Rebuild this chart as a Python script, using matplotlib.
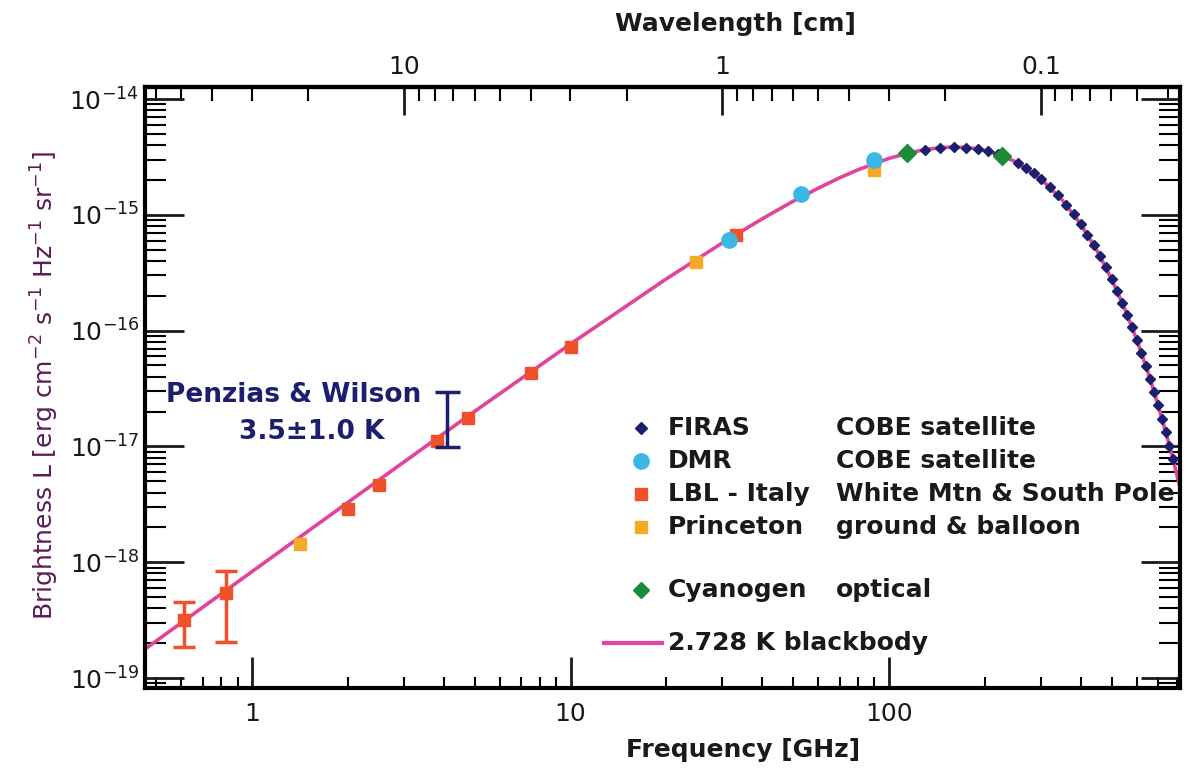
import numpy as np
import matplotlib
matplotlib.use("Agg")
import matplotlib.pyplot as plt
from matplotlib.ticker import LogLocator, NullFormatter, FixedLocator, FuncFormatter

W, H = 1190, 770

# 2.728 K blackbody: frequency [GHz], brightness [erg cm^-2 s^-1 Hz^-1 sr^-1]
bb_freq = [0.46, 1, 3, 5, 10, 20, 30, 40, 50, 60, 70, 80, 100, 115, 130, 145,
           160, 175, 190, 205, 220, 250, 300, 350, 400, 450, 500, 550, 600,
           650, 700, 750, 800, 820]
bb_bright = [1.77e-19, 8.31e-19, 7.35e-18, 2.01e-17, 7.67e-17, 2.80e-16,
             5.73e-16, 9.24e-16, 1.31e-15, 1.70e-15, 2.09e-15, 2.45e-15,
             3.07e-15, 3.42e-15, 3.66e-15, 3.80e-15, 3.85e-15, 3.81e-15,
             3.71e-15, 3.54e-15, 3.34e-15, 2.87e-15, 2.04e-15, 1.34e-15,
             8.30e-16, 4.91e-16, 2.79e-16, 1.54e-16, 8.31e-17, 4.39e-17,
             2.27e-17, 1.16e-17, 5.85e-18, 4.42e-18]

# FIRAS (COBE)
firas_freq = [130, 145, 160, 175, 190, 205, 220, 255, 270, 285, 300, 320, 340,
              360, 380, 400, 420, 440, 460, 480, 500, 520, 540, 560, 580, 600,
              620, 640, 660, 680, 700, 720, 740, 760, 780]
firas_bright = [3.66e-15, 3.80e-15, 3.85e-15, 3.81e-15, 3.71e-15, 3.54e-15,
                3.34e-15, 2.79e-15, 2.53e-15, 2.28e-15, 2.04e-15, 1.74e-15,
                1.47e-15, 1.22e-15, 1.01e-15, 8.30e-16, 6.76e-16, 5.47e-16,
                4.39e-16, 3.51e-16, 2.79e-16, 2.21e-16, 1.74e-16, 1.37e-16,
                1.07e-16, 8.31e-17, 6.45e-17, 4.99e-17, 3.85e-17, 2.96e-17,
                2.27e-17, 1.74e-17, 1.33e-17, 1.01e-17, 7.71e-18]

# DMR (COBE)
dmr_freq = [31.5, 53, 90]
dmr_bright = [6.1e-16, 1.5e-15, 2.95e-15]

# LBL - Italy, the two lowest channels carry error bars
lbl_freq = [0.61, 0.83, 2.0, 2.5, 3.8, 4.75, 7.5, 10, 33]
lbl_bright = [3.15e-19, 5.4e-19, 2.9e-18, 4.6e-18, 1.12e-17, 1.75e-17,
              4.3e-17, 7.2e-17, 6.7e-16]
lbl_err_lo = [1.84e-19, 2.04e-19]
lbl_err_hi = [4.5e-19, 8.4e-19]

# Princeton
prin_freq = [1.41, 24.8, 90]
prin_bright = [1.45e-18, 3.9e-16, 2.45e-15]

# Cyanogen (optical)
cn_freq = [113.6, 227]
cn_bright = [3.4e-15, 3.25e-15]

# Penzias & Wilson 3.5 +/- 1.0 K
pw_freq = 4.08
pw_lo, pw_mid, pw_hi = 9.8e-18, 1.75e-17, 2.95e-17

x_ticks = [1, 10, 100]
y_ticks = [1e-19, 1e-18, 1e-17, 1e-16, 1e-15, 1e-14]
wl_ticks = [10, 1, 0.1]
wl_labels = ["10", "1", "0.1"]

PINK = "#e2449a"
NAVY = "#1c1f6e"
CYAN = "#3cb6e3"
RED = "#f0502a"
GOLD = "#f6aa2a"
GREEN = "#1d8a35"
TXT = "#1a1a1a"

plt.rcParams["font.family"] = ["DejaVu Sans"]


def fp(x, y):
    return x / W, 1 - y / H


fig = plt.figure(figsize=(W / 100, H / 100), dpi=100)
ax = fig.add_axes([145 / W, 1 - 688 / H, (1180 - 145) / W, (688 - 87) / H])
ax.set_xscale("log")
ax.set_yscale("log")
ax.set_xlim(0.461, 820)
ax.set_ylim(8.2e-20, 1.27e-14)

ax.plot(bb_freq, bb_bright, color=PINK, lw=2.6, zorder=2)
ax.plot(firas_freq, firas_bright, ls="none", marker="D", ms=5, color=NAVY, zorder=4)
ax.plot(dmr_freq, dmr_bright, ls="none", marker="o", ms=11, color=CYAN, zorder=4)
ax.plot(prin_freq, prin_bright, ls="none", marker="s", ms=9, color=GOLD, zorder=3)
ax.plot(lbl_freq[2:], lbl_bright[2:], ls="none", marker="s", ms=9, color=RED, zorder=3)
yerr = [[b - lo for b, lo in zip(lbl_bright[:2], lbl_err_lo)],
        [hi - b for b, hi in zip(lbl_bright[:2], lbl_err_hi)]]
ax.errorbar(lbl_freq[:2], lbl_bright[:2], yerr=yerr, fmt="s", ms=9, color=RED,
            ecolor=RED, elinewidth=2.5, capsize=8, capthick=2.5, zorder=3)
ax.plot(cn_freq, cn_bright, ls="none", marker="D", ms=9, color=GREEN, zorder=5)
ax.errorbar([pw_freq], [pw_mid], yerr=[[pw_mid - pw_lo], [pw_hi - pw_mid]],
            fmt="none", ecolor=NAVY, elinewidth=2.5, capsize=9, capthick=2.5, zorder=3)

# axes frame and ticks
for s in ax.spines.values():
    s.set_linewidth(3)
ax.xaxis.set_major_locator(FixedLocator(x_ticks))
ax.xaxis.set_major_formatter(FuncFormatter(lambda v, _: f"{v:g}"))
ax.xaxis.set_minor_locator(LogLocator(base=10, subs=np.arange(2, 10)))
ax.xaxis.set_minor_formatter(NullFormatter())
ax.yaxis.set_major_locator(FixedLocator(y_ticks))
ax.yaxis.set_major_formatter(FuncFormatter(
    lambda v, _: r"$\mathregular{10^{%d}}$" % round(np.log10(v))))
ax.yaxis.set_minor_locator(LogLocator(base=10, subs=np.arange(2, 10), numticks=10))
ax.yaxis.set_minor_formatter(NullFormatter())
ax.tick_params(axis="x", which="major", direction="in", length=22, width=2,
               labelsize=18, pad=10, top=False, colors=TXT)
ax.tick_params(axis="x", which="minor", direction="in", length=8, width=1.5, top=False)
ax.tick_params(axis="y", which="major", direction="in", length=28, width=2,
               labelsize=18, pad=4, right=True, colors=TXT)
ax.tick_params(axis="y", which="minor", direction="in", length=15, width=1.5, right=True)


def to_wavelength(f):
    f = np.asarray(f, dtype=float)
    with np.errstate(divide="ignore"):
        return 29.98 / f


sec = ax.secondary_xaxis("top", functions=(to_wavelength, to_wavelength))
sec.set_xticks(wl_ticks)
sec.set_xticklabels(wl_labels)
sec.xaxis.set_minor_locator(LogLocator(base=10, subs=np.arange(2, 10)))
sec.xaxis.set_minor_formatter(NullFormatter())
sec.tick_params(which="major", direction="in", length=20, width=2, labelsize=18,
                pad=6, colors=TXT)
sec.tick_params(which="minor", direction="in", length=10, width=1.5)
sec.spines["top"].set_linewidth(3)

# axis titles
fig.text(*fp(743, 750), "Frequency [GHz]", ha="center", va="center", fontsize=18,
         fontweight="bold", color=TXT)
fig.text(*fp(735, 24), "Wavelength [cm]", ha="center", va="center", fontsize=18,
         fontweight="bold", color=TXT)
fig.text(*fp(45, 386), "Brightness L [erg cm$^{-2}$ s$^{-1}$ Hz$^{-1}$ sr$^{-1}$]",
         rotation=90, ha="center", va="center", fontsize=18, color="#5a1c55")

# Penzias & Wilson annotation
fig.text(*fp(294, 395), "Penzias & Wilson", ha="center", va="center", fontsize=19,
         fontweight="bold", color=NAVY)
fig.text(*fp(312, 432), "3.5\u00b11.0 K", ha="center", va="center", fontsize=19,
         fontweight="bold", color=NAVY)

# key
rows = [
    (428, "D", NAVY, 6, "FIRAS", "COBE satellite"),
    (461, "o", CYAN, 11, "DMR", "COBE satellite"),
    (494, "s", RED, 9, "LBL - Italy", "White Mtn & South Pole"),
    (527, "s", GOLD, 9, "Princeton", "ground & balloon"),
    (590, "D", GREEN, 8, "Cyanogen", "optical"),
]
for y, mk, col, ms, name, where in rows:
    fig.add_artist(plt.Line2D([641 / W], [1 - y / H], marker=mk, ms=ms, color=col,
                              ls="none", transform=fig.transFigure))
    fig.text(*fp(668, y), name, ha="left", va="center", fontsize=18,
             fontweight="bold", color=TXT)
    fig.text(*fp(836, y), where, ha="left", va="center", fontsize=18,
             fontweight="bold", color=TXT)
fig.add_artist(plt.Line2D([604 / W, 662 / W], [1 - 643 / H, 1 - 643 / H], color=PINK,
                          lw=3, transform=fig.transFigure))
fig.text(*fp(668, 643), "2.728 K blackbody", ha="left", va="center", fontsize=18,
         fontweight="bold", color=TXT)

fig.savefig("out.png", dpi=100)
